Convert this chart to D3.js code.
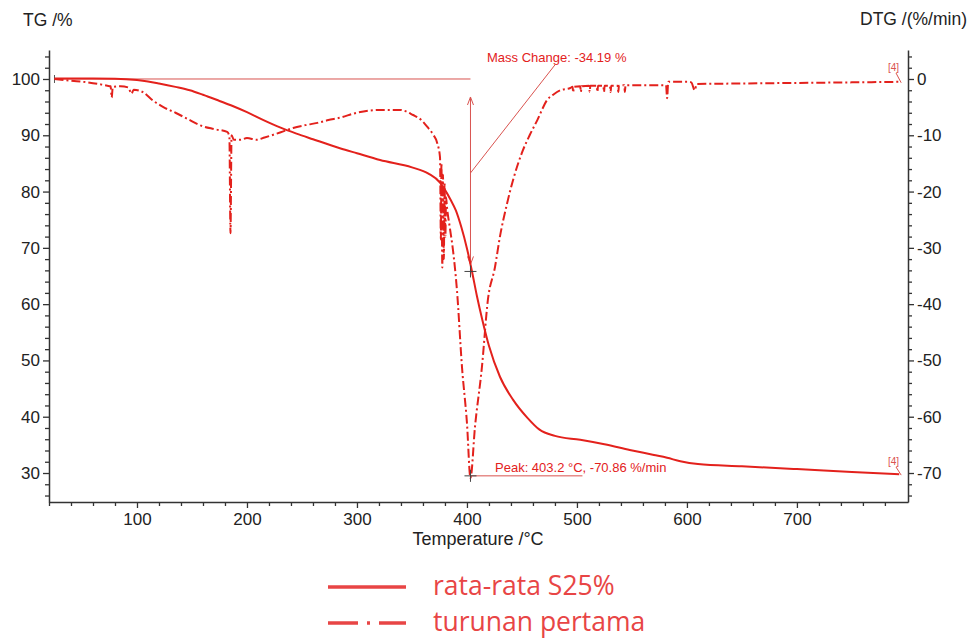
<!DOCTYPE html>
<html>
<head>
<meta charset="utf-8">
<script src="https://cdn.jsdelivr.net/npm/d3@7"></script>
<style>
  body { margin: 0; background: #fff; }
  svg { display: block; }
  .tick text { font-family: "Liberation Sans", Arial, sans-serif; }
</style>
</head>
<body>
<svg id="chart" width="969" height="640"></svg>
<script>
// ---------------- DATA ----------------
const tgTemp = [25, 60, 80, 100, 110, 120, 135, 148, 160, 175, 187, 200, 215, 230, 245, 260, 284.5, 300, 321, 350, 365, 375.5, 380, 385, 390, 395, 400, 404.5, 409, 414, 420, 430, 442, 455, 466, 480, 503, 525, 548, 570, 582, 594, 610, 650, 700, 750, 793];
const tgValue = [100.1, 100.1, 100.05, 99.8, 99.55, 99.2, 98.6, 98.0, 97.2, 96.1, 95.2, 94.1, 92.7, 91.4, 90.3, 89.3, 87.7, 86.8, 85.6, 84.3, 83.2, 81.6, 80.3, 78.6, 76.6, 73.6, 69.9, 65.9, 61.5, 57.2, 52.6, 47.1, 43.0, 39.8, 37.7, 36.6, 35.9, 35.1, 34.1, 33.2, 32.7, 32.1, 31.6, 31.2, 30.7, 30.2, 29.8];

const dtgTemp = [25, 40, 55, 68, 73, 76, 77, 78, 85, 92, 95, 97, 105, 115, 124, 135, 146, 157, 170, 182, 184, 185, 186, 188, 194, 200, 209, 216, 224, 233, 242, 253, 264, 274, 284, 300, 321, 339, 351, 358, 364, 369, 373, 375.5, 376.3, 376.8, 377.6, 378.2, 379, 379.6, 380.4, 381, 381.8, 384.5, 387.3, 390.9, 395.5, 400, 403.2, 407.3, 413.6, 419, 425.5, 430, 436, 442, 451, 457, 464, 473, 479, 485, 494, 496, 496.6, 497.2, 503, 503.6, 504.2, 511, 511.6, 512.2, 518, 518.6, 519.2, 524, 524.6, 525.2, 530, 530.6, 531.2, 537, 537.6, 538.2, 543, 543.6, 544.2, 560, 581, 582, 583, 600, 604, 607, 609, 650, 700, 750, 793];
const dtgValue = [0, -0.3, -0.6, -1.0, -1.2, -1.3, -3.3, -1.4, -1.3, -1.5, -2.6, -1.9, -2.3, -3.9, -5.0, -6.0, -7.1, -8.2, -8.9, -9.4, -10.2, -27.4, -10.0, -10.8, -10.8, -10.5, -10.8, -10.4, -9.9, -9.3, -8.7, -8.2, -7.8, -7.3, -6.9, -6.0, -5.5, -5.5, -6.4, -7.2, -8.5, -9.8, -11.4, -13.9, -28.5, -15.0, -33.5, -17.0, -32.0, -18.5, -28.0, -21.0, -22.7, -26.5, -30.4, -37.5, -51.2, -61.1, -70.86, -61.8, -51.2, -39.3, -33.4, -28.0, -22.5, -17.9, -12.6, -10.0, -7.3, -3.7, -2.7, -2.0, -1.6, -1.4, -2.4, -1.4, -1.3, -2.3, -1.3, -1.2, -2.3, -1.2, -1.2, -2.3, -1.2, -1.2, -2.3, -1.2, -1.2, -2.3, -1.2, -1.2, -2.3, -1.2, -1.1, -2.3, -1.1, -1.1, -1.1, -3.4, -0.5, -0.5, -0.6, -2.0, -0.9, -0.8, -0.7, -0.6, -0.5];

const xTicks = [100, 200, 300, 400, 500, 600, 700];
const tgTicks = [30, 40, 50, 60, 70, 80, 90, 100];
const dtgTicks = [0, -10, -20, -30, -40, -50, -60, -70];

const massChange = -34.19;
const peakTemp = 403.2;
const peakValue = -70.86;
const seriesNames = ["rata-rata S25%", "turunan pertama"];

// ---------------- CHART ----------------
const svg = d3.select("#chart");
const red = "#e3211c";
const annot = "#d9534f";
const axisColor = "#333";

const x = d3.scaleLinear().domain([20, 801]).range([49, 908]);
const yTG = d3.scaleLinear().domain([24.85, 105.15]).range([502, 50]);
const yDTG = d3.scaleLinear().domain([-75.15, 5.15]).range([502, 50]);

const minorX = d3.range(20, 801, 20).filter(v => v % 100 !== 0);
const minorTG = d3.range(26, 106, 2).filter(v => v % 10 !== 0);
const minorDTG = d3.range(-74, 6, 2).filter(v => v % 10 !== 0);

function styleAxis(g) {
  g.select(".domain").attr("stroke", axisColor).attr("stroke-width", 1.5);
  g.selectAll(".tick line").attr("stroke", axisColor).attr("stroke-width", 1.3);
  g.selectAll(".tick text").attr("fill", "#222").attr("font-size", 17);
}

// X axis
const gx = svg.append("g").attr("transform", "translate(0,502)")
  .call(d3.axisBottom(x).tickValues(xTicks).tickSize(6).tickSizeOuter(0).tickPadding(5).tickFormat(d3.format("d")));
styleAxis(gx);
const gxm = svg.append("g").attr("transform", "translate(0,502)")
  .call(d3.axisBottom(x).tickValues(minorX).tickSize(4).tickFormat(""));
gxm.select(".domain").remove();
gxm.selectAll(".tick line").attr("stroke", axisColor).attr("stroke-width", 1.3);

// Left axis
const gl = svg.append("g").attr("transform", "translate(49,0)")
  .call(d3.axisLeft(yTG).tickValues(tgTicks).tickSize(6).tickSizeOuter(0).tickPadding(3));
styleAxis(gl);
const glm = svg.append("g").attr("transform", "translate(49,0)")
  .call(d3.axisLeft(yTG).tickValues(minorTG).tickSize(4).tickFormat(""));
glm.select(".domain").remove();
glm.selectAll(".tick line").attr("stroke", axisColor).attr("stroke-width", 1.3);

// Right axis
const gr = svg.append("g").attr("transform", "translate(908,0)")
  .call(d3.axisRight(yDTG).tickValues(dtgTicks).tickSize(6).tickSizeOuter(0).tickPadding(3)
  .tickFormat(d => d === 0 ? "0" : "-" + Math.abs(d)));
styleAxis(gr);
const grm = svg.append("g").attr("transform", "translate(908,0)")
  .call(d3.axisRight(yDTG).tickValues(minorDTG).tickSize(4).tickFormat(""));
grm.select(".domain").remove();
grm.selectAll(".tick line").attr("stroke", axisColor).attr("stroke-width", 1.3);

// Axis titles
const fontAx = "'Liberation Sans', Arial, sans-serif";
svg.append("text").attr("x", 23).attr("y", 26).attr("font-family", fontAx).attr("font-size", 17.5).attr("fill", "#222").text("TG /%");
svg.append("text").attr("x", 967).attr("y", 25).attr("text-anchor", "end").attr("font-family", fontAx).attr("font-size", 17.5).attr("fill", "#222").text("DTG /(%/min)");
svg.append("text").attr("x", 478).attr("y", 545).attr("text-anchor", "middle").attr("font-family", fontAx).attr("font-size", 18).attr("fill", "#222").text("Temperature /°C");

// Annotations: mass change
const xp = x(peakTemp);
const y100 = yTG(100);
const yEnd = yTG(100 + massChange);
svg.append("line").attr("x1", x(25)).attr("x2", xp).attr("y1", y100).attr("y2", y100)
  .attr("stroke", annot).attr("stroke-width", 1);
svg.append("line").attr("x1", x(25)).attr("x2", x(25)).attr("y1", y100 - 4).attr("y2", y100 + 4)
  .attr("stroke", "#555").attr("stroke-width", 1);
// vertical double arrow
const aTop = y100 + 18, aBot = yEnd - 7;
svg.append("line").attr("x1", xp).attr("x2", xp).attr("y1", aTop).attr("y2", aBot).attr("stroke", annot).attr("stroke-width", 1);
svg.append("path").attr("d", `M${xp - 3},${aTop + 8} L${xp},${aTop} L${xp + 3},${aTop + 8}`).attr("fill", "none").attr("stroke", annot).attr("stroke-width", 1);
svg.append("path").attr("d", `M${xp - 3},${aBot - 8} L${xp},${aBot} L${xp + 3},${aBot - 8}`).attr("fill", "none").attr("stroke", annot).attr("stroke-width", 1);
// leader line
svg.append("line").attr("x1", xp).attr("y1", yTG(83.3)).attr("x2", x(480)).attr("y2", yTG(102.5))
  .attr("stroke", annot).attr("stroke-width", 1);
svg.append("text").attr("x", 487).attr("y", 62).attr("font-family", fontAx).attr("font-size", 13).attr("fill", red)
  .text("Mass Change: " + massChange.toFixed(2) + " %");

// crosses
function cross(cx, cy) {
  svg.append("line").attr("x1", cx - 6).attr("x2", cx + 6).attr("y1", cy).attr("y2", cy).attr("stroke", "#444").attr("stroke-width", 1);
  svg.append("line").attr("x1", cx).attr("x2", cx).attr("y1", cy - 6).attr("y2", cy + 6).attr("stroke", "#444").attr("stroke-width", 1);
}

// peak annotation
const yPeak = yDTG(peakValue) - 2;
svg.append("line").attr("x1", xp).attr("x2", x(505)).attr("y1", yPeak).attr("y2", yPeak).attr("stroke", annot).attr("stroke-width", 1);
svg.append("text").attr("x", 495).attr("y", 472).attr("font-family", fontAx).attr("font-size", 13).attr("fill", red)
  .text("Peak: " + peakTemp.toFixed(1) + " °C, " + peakValue.toFixed(2) + " %/min");

// [4] markers
function marker(tx, ty, lx, ly) {
  svg.append("text").attr("x", tx).attr("y", ty).attr("font-family", fontAx).attr("font-size", 10).attr("fill", annot).text("[4]");
  svg.append("line").attr("x1", tx + 8).attr("y1", ty + 2).attr("x2", lx).attr("y2", ly).attr("stroke", annot).attr("stroke-width", 1);
}

// Curves
const tgData = tgTemp.map((t, i) => [t, tgValue[i]]);
const dtgData = dtgTemp.map((t, i) => [t, dtgValue[i]]);

svg.append("path").datum(dtgData)
  .attr("d", d3.line().x(d => x(d[0])).y(d => yDTG(d[1])).curve(d3.curveMonotoneX))
  .attr("fill", "none").attr("stroke", red).attr("stroke-width", 2)
  .attr("stroke-dasharray", "9,3,2,3");

svg.append("path").datum(tgData)
  .attr("d", d3.line().x(d => x(d[0])).y(d => yTG(d[1])).curve(d3.curveMonotoneX))
  .attr("fill", "none").attr("stroke", red).attr("stroke-width", 2);

cross(xp, yEnd);
cross(xp, yPeak);

const lastT = dtgTemp[dtgTemp.length - 1];
marker(888, 71, x(lastT) + 2, yDTG(dtgValue[dtgValue.length - 1]) + 1);
marker(888, 465, x(lastT) + 2, yTG(tgValue[tgValue.length - 1]) + 1);

// Legend
const legRed = "#e84545";
const fontLeg = "'Open Sans', 'Noto Sans', sans-serif";
svg.append("line").attr("x1", 328).attr("x2", 406).attr("y1", 587).attr("y2", 587)
  .attr("stroke", legRed).attr("stroke-width", 3.5);
svg.append("text").attr("x", 433).attr("y", 595).attr("font-family", fontLeg).attr("font-size", 26.5).attr("fill", legRed).text(seriesNames[0]);
svg.append("line").attr("x1", 328).attr("x2", 406).attr("y1", 623).attr("y2", 623)
  .attr("stroke", legRed).attr("stroke-width", 3.5).attr("stroke-dasharray", "30,9,3,9,30");
svg.append("text").attr("x", 433).attr("y", 631).attr("font-family", fontLeg).attr("font-size", 26.5).attr("fill", legRed).text(seriesNames[1]);
</script>
</body>
</html>
